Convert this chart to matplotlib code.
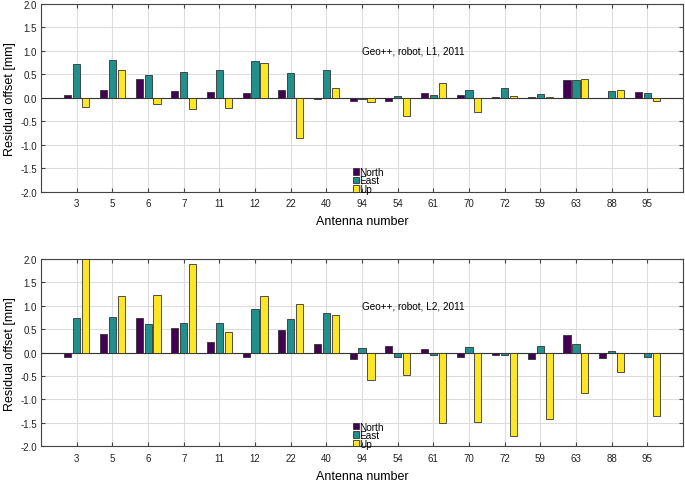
import numpy as np
import matplotlib
matplotlib.use("Agg")
import matplotlib.pyplot as plt

plt.rcParams['font.family'] = ['Liberation Sans', 'DejaVu Sans']

# Antenna numbers (categories)
antennas = ['3', '5', '6', '7', '11', '12', '22', '40', '94', '54',
            '61', '70', '72', '59', '63', '88', '95']

# L1 residual offsets [mm]
l1_north = [0.06, 0.17, 0.40, 0.15, 0.13, 0.09, 0.17, -0.02, -0.06, -0.06,
            0.09, 0.05, 0.02, 0.005, 0.38, -0.01, 0.13]
l1_east = [0.71, 0.80, 0.48, 0.55, 0.60, 0.78, 0.53, 0.58, -0.02, 0.04,
           0.06, 0.17, 0.20, 0.08, 0.38, 0.15, 0.10]
l1_up = [-0.19, 0.60, -0.14, -0.25, -0.21, 0.73, -0.86, 0.21, -0.09, -0.38,
         0.32, -0.30, 0.04, 0.02, 0.40, 0.16, -0.06]

# L2 residual offsets [mm]
l2_north = [-0.09, 0.40, 0.74, 0.53, 0.23, -0.10, 0.48, 0.18, -0.14, 0.14,
            0.085, -0.085, -0.06, -0.13, 0.38, -0.12, -0.01]
l2_east = [0.74, 0.77, 0.62, 0.63, 0.64, 0.93, 0.72, 0.85, 0.10, -0.10,
           -0.06, 0.12, -0.06, 0.13, 0.18, 0.035, -0.09]
l2_up = [2.0, 1.21, 1.23, 1.90, 0.45, 1.20, 1.04, 0.80, -0.58, -0.48,
         -1.51, -1.48, -1.78, -1.42, -0.86, -0.42, -1.36]

colors = ['#440154', '#21908d', '#fde725']
labels = ['North', 'East', 'Up']

fig = plt.figure(figsize=(6.85, 4.85), dpi=100)
ax1 = fig.add_axes([0.060, 0.603, 0.937, 0.387])
ax2 = fig.add_axes([0.060, 0.078, 0.937, 0.386])

x = np.arange(1, len(antennas) + 1)
w = 0.2
off = 0.25


def draw(ax, series, title):
    for i, vals in enumerate(series):
        ax.bar(x + (i - 1) * off, vals, width=w, color=colors[i],
               edgecolor='#333333', linewidth=0.6, label=labels[i], zorder=3)
    ax.axhline(0, color='#333333', linewidth=0.8, zorder=2)
    ax.set_xlim(0, 18)
    ax.set_ylim(-2, 2)
    ax.set_xticks(x)
    ax.set_xticklabels(antennas, fontsize=7, color='#222222')
    yt = np.arange(-2, 2.01, 0.5)
    ax.set_yticks(yt)
    ax.set_yticklabels([f'{v:.1f}' for v in yt], fontsize=7, color='#222222')
    ax.grid(True, color='#dddddd', linewidth=0.8, zorder=0)
    ax.tick_params(direction='in', top=True, right=True, length=3,
                   color='#444444')
    ax.tick_params(axis='x', pad=5)
    ax.tick_params(axis='y', pad=3)
    for s in ax.spines.values():
        s.set_color('#444444')
        s.set_linewidth(0.8)
    ax.set_xlabel('Antenna number', fontsize=9, labelpad=5)
    ax.set_ylabel('Residual offset [mm]', fontsize=9, labelpad=3)
    ax.text(9.0, 1.0, title, fontsize=7.2, va='center', ha='left')
    ax.legend(loc='lower left', bbox_to_anchor=(0.476, -0.045), frameon=False,
              fontsize=7.2, handlelength=0.6, handleheight=0.6,
              handletextpad=0.1, labelspacing=-0.15, borderpad=0.1)


draw(ax1, [l1_north, l1_east, l1_up], 'Geo++, robot, L1, 2011')
draw(ax2, [l2_north, l2_east, l2_up], 'Geo++, robot, L2, 2011')

fig.savefig('out.png', dpi=100)
